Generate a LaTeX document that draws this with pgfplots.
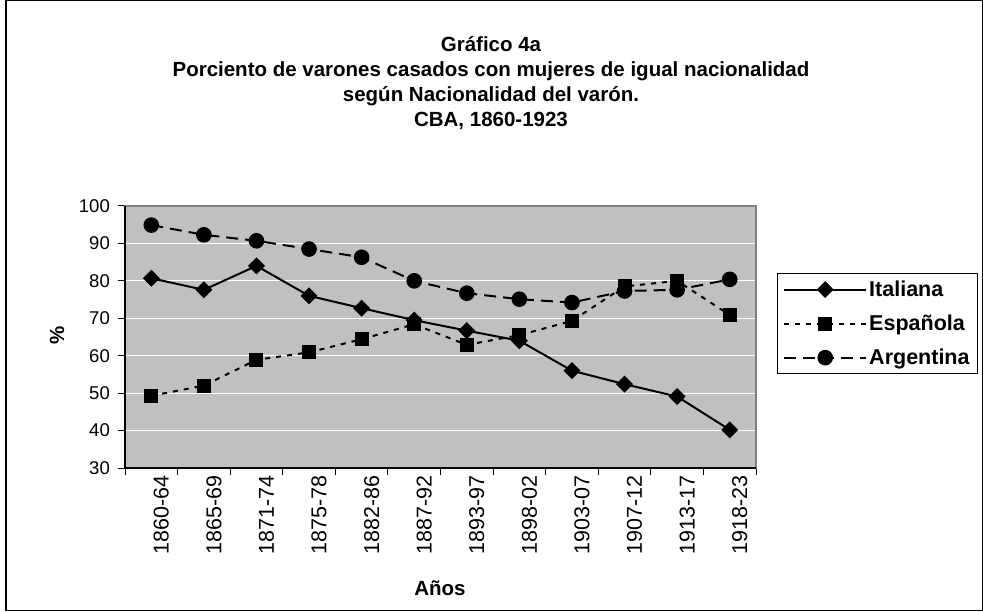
\documentclass[border=0pt]{standalone}
\usepackage{fontspec}
\setmainfont{Liberation Sans}
\usepackage{pgfplots}
\pgfplotsset{compat=1.18}

\definecolor{plotgray}{RGB}{192,192,192}
\definecolor{edgegray}{RGB}{128,128,128}

\pgfplotstableread{
idx ita esp arg
0  80.7 49.3 94.9
1  77.6 52.0 92.3
2  84.0 58.9 90.7
3  76.0 60.9 88.5
4  72.7 64.4 86.3
5  69.5 68.4 80.0
6  66.7 62.9 76.7
7  64.0 65.5 75.1
8  56.0 69.3 74.2
9  52.4 78.5 77.3
10 49.1 80.0 77.6
11 40.2 70.9 80.4
}\datos

\begin{document}
\begin{tikzpicture}[x=1pt,y=1pt]
\useasboundingbox (0,0) rectangle (983,611);
\draw[black, line width=1.3pt] (6,0.7) rectangle (982.3,610.3);

% titulo
\begin{scope}[every node/.style={font=\bfseries\fontsize{20.5}{24}\selectfont, anchor=base}]
\node at (491,559) {Gráfico 4a};
\node at (491,534) {Porciento de varones casados con mujeres de igual nacionalidad};
\node at (491,509) {según Nacionalidad del varón.};
\node at (491,484) {CBA, 1860-1923};
\end{scope}

\node[rotate=90, font=\bfseries\fontsize{20.5}{24}\selectfont] at (57,276) {\%};
\node[font=\bfseries\fontsize{20.5}{24}\selectfont] at (440,23) {Años};

\begin{axis}[
    at={(125pt,143pt)}, anchor=south west,
    scale only axis, width=631pt, height=262pt,
    xmin=-0.5, xmax=11.5, ymin=30, ymax=100,
    axis background/.style={fill=plotgray},
    axis line style={draw=edgegray, line width=1.2pt},
    ytick={30,40,...,100},
    xtick={0,...,11},
    xticklabels={1860-64,1865-69,1871-74,1875-78,1882-86,1887-92,1893-97,1898-02,1903-07,1907-12,1913-17,1918-23},
    minor xtick={-0.5,0.5,...,11.5},
    major x tick style={draw=none},
    tick align=outside, tick pos=lower,
    major tick length=7pt, minor tick length=7pt,
    tick style={black, line width=1pt},
    ymajorgrids, grid style={white, line width=1pt},
    /pgf/number format/assume math mode=true,
    yticklabel style={font=\fontsize{18.5}{20}\selectfont, anchor=east, inner sep=0pt, xshift=-8pt},
    xticklabel style={font=\fontsize{21.5}{22}\selectfont, rotate=90, anchor=east, inner sep=0pt, yshift=-10pt},
    legend style={at={(rel axis cs:1.033,0.744)}, anchor=north west,
        draw=black, line width=0.8pt, fill=white,
        font=\bfseries\fontsize{21.5}{22}\selectfont,
        inner xsep=6pt, inner ysep=5.5pt, row sep=13pt,
        /tikz/every even column/.append style={column sep=4pt}},
    legend cell align=left,
    legend image code/.code={\draw[mark repeat=2,mark phase=2,#1] plot coordinates {(0pt,0pt) (41pt,0pt) (82pt,0pt)};},
    clip=false,
]
\addplot[black, line width=2pt, mark=square*, mark size=5pt, mark options={solid, rotate=45}] table[x=idx, y=ita] {\datos};
\addlegendentry{Italiana}
\addplot[black, line width=2pt, dash pattern=on 5pt off 6pt, mark=square*, mark size=6pt, mark options={solid}] table[x=idx, y=esp] {\datos};
\addlegendentry{Española}
\addplot[black, line width=2pt, dash pattern=on 12pt off 7pt, mark=*, mark size=6.8pt, mark options={solid}] table[x=idx, y=arg] {\datos};
\addlegendentry{Argentina}
\draw[black, line width=1.2pt] (rel axis cs:0,1) -- (rel axis cs:0,0) -- (rel axis cs:1,0);
\end{axis}
\end{tikzpicture}
\end{document}
